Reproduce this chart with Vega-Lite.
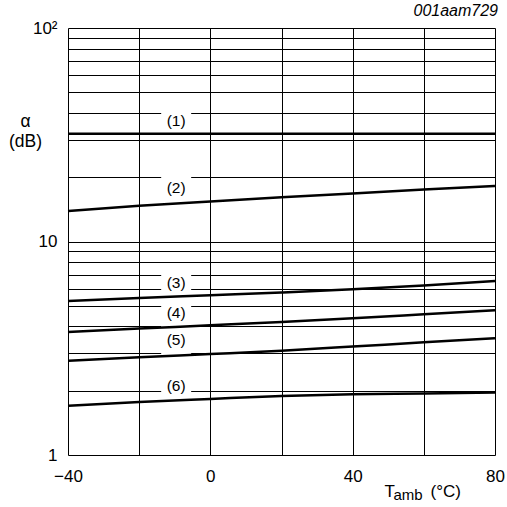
{
  "$schema": "https://vega.github.io/schema/vega-lite/v6.json",
  "width": 427,
  "height": 427,
  "autosize": {"type": "none"},
  "padding": {"left": 68, "top": 28, "right": 12, "bottom": 52},
  "background": "white",
  "title": {
    "text": "001aam729",
    "anchor": "end",
    "frame": "group",
    "font": "Liberation Sans",
    "fontSize": 16,
    "fontStyle": "italic",
    "fontWeight": "normal",
    "color": "black",
    "baseline": "alphabetic",
    "offset": 7,
    "dx": 3,
    "dy": 20
  },
  "config": {
    "view": {"stroke": null},
    "font": "Liberation Sans",
    "axis": {
      "labelFont": "Liberation Sans",
      "titleFont": "Liberation Sans",
      "labelColor": "black",
      "titleColor": "black",
      "titleFontWeight": "normal",
      "ticks": false,
      "domain": false,
      "labelOverlap": false,
      "labelFlush": false
    }
  },
  "datasets": {
    "curves": [
      {"curve": "1", "t": -40, "a": 32.0},
      {"curve": "1", "t": -20, "a": 32.0},
      {"curve": "1", "t": 0, "a": 32.0},
      {"curve": "1", "t": 20, "a": 32.0},
      {"curve": "1", "t": 40, "a": 32.0},
      {"curve": "1", "t": 60, "a": 32.0},
      {"curve": "1", "t": 80, "a": 32.0},
      {"curve": "2", "t": -40, "a": 13.9},
      {"curve": "2", "t": -20, "a": 14.7},
      {"curve": "2", "t": 0, "a": 15.4},
      {"curve": "2", "t": 20, "a": 16.1},
      {"curve": "2", "t": 40, "a": 16.8},
      {"curve": "2", "t": 60, "a": 17.5},
      {"curve": "2", "t": 80, "a": 18.2},
      {"curve": "3", "t": -40, "a": 5.26},
      {"curve": "3", "t": -20, "a": 5.44},
      {"curve": "3", "t": 0, "a": 5.6},
      {"curve": "3", "t": 20, "a": 5.77},
      {"curve": "3", "t": 40, "a": 5.97},
      {"curve": "3", "t": 60, "a": 6.23},
      {"curve": "3", "t": 80, "a": 6.53},
      {"curve": "4", "t": -40, "a": 3.77},
      {"curve": "4", "t": -20, "a": 3.91},
      {"curve": "4", "t": 0, "a": 4.05},
      {"curve": "4", "t": 20, "a": 4.2},
      {"curve": "4", "t": 40, "a": 4.37},
      {"curve": "4", "t": 60, "a": 4.56},
      {"curve": "4", "t": 80, "a": 4.76},
      {"curve": "5", "t": -40, "a": 2.76},
      {"curve": "5", "t": -20, "a": 2.87},
      {"curve": "5", "t": 0, "a": 2.97},
      {"curve": "5", "t": 20, "a": 3.08},
      {"curve": "5", "t": 40, "a": 3.22},
      {"curve": "5", "t": 60, "a": 3.37},
      {"curve": "5", "t": 80, "a": 3.52},
      {"curve": "6", "t": -40, "a": 1.7},
      {"curve": "6", "t": -20, "a": 1.77},
      {"curve": "6", "t": 0, "a": 1.83},
      {"curve": "6", "t": 20, "a": 1.89},
      {"curve": "6", "t": 40, "a": 1.925},
      {"curve": "6", "t": 60, "a": 1.94},
      {"curve": "6", "t": 80, "a": 1.96}
    ],
    "labels": [
      {"label": "(1)", "t": -9.6, "a": 36.7},
      {"label": "(2)", "t": -9.6, "a": 17.9},
      {"label": "(3)", "t": -9.6, "a": 6.41},
      {"label": "(4)", "t": -9.6, "a": 4.64},
      {"label": "(5)", "t": -9.6, "a": 3.46},
      {"label": "(6)", "t": -9.6, "a": 2.1}
    ]
  },
  "layer": [
    {
      "encoding": {
        "x": {
          "field": "t",
          "type": "quantitative",
          "scale": {"domain": [-40, 80], "nice": false, "zero": false},
          "axis": {
            "orient": "bottom",
            "values": [-40, -20, 0, 20, 40, 60, 80],
            "labelExpr": "datum.value == -40 ? '−40' : (datum.value % 40 == 0 ? toString(datum.value) : '')",
            "grid": true,
            "gridColor": "black",
            "gridWidth": 1,
            "labelFontSize": 17,
            "labelPadding": 13,
            "title": "T",
            "titleFontSize": 17,
            "titleAlign": "left",
            "titleBaseline": "alphabetic",
            "titleX": 316,
            "titleY": 41
          }
        },
        "y": {
          "field": "a",
          "type": "quantitative",
          "scale": {"type": "log", "domain": [1, 100], "nice": false},
          "axis": {
            "orient": "left",
            "values": [1, 2, 3, 4, 5, 6, 7, 8, 9, 10, 20, 30, 40, 50, 60, 70, 80, 90, 100],
            "labelExpr": "datum.value == 1 ? '1' : (datum.value == 10 ? '10' : (datum.value == 100 ? '10²' : ''))",
            "grid": true,
            "gridColor": "black",
            "gridWidth": 1,
            "labelFontSize": 17,
            "labelPadding": 11,
            "labelBaseline": "middle",
            "title": ["α", "(dB)"],
            "titleFontSize": 17.5,
            "titleAngle": 0,
            "titleAlign": "center",
            "titleBaseline": "alphabetic",
            "titleLineHeight": 20,
            "titleX": -43,
            "titleY": 98
          }
        }
      },
      "layer": [
        {
          "data": {"name": "labels"},
          "mark": {"type": "point", "shape": "square", "filled": true, "color": "white", "opacity": 1, "size": 900, "strokeWidth": 0}
        },
        {
          "data": {"name": "curves"},
          "mark": {"type": "line", "color": "black", "strokeWidth": 2.5, "interpolate": "monotone"},
          "encoding": {"detail": {"field": "curve", "type": "nominal"}}
        },
        {
          "data": {"name": "labels"},
          "mark": {"type": "text", "font": "Liberation Sans", "fontSize": 15.5, "color": "black", "align": "center", "baseline": "middle"},
          "encoding": {"text": {"field": "label", "type": "nominal"}}
        }
      ]
    },
    {
      "data": {"name": "curves"},
      "mark": {"type": "point", "opacity": 0},
      "encoding": {
        "x": {
          "field": "t",
          "type": "quantitative",
          "scale": {"domain": [-40, 80], "nice": false, "zero": false},
          "axis": {
            "orient": "top",
            "labels": false,
            "grid": false,
            "title": "(°C)",
            "titleFontSize": 17,
            "titleAlign": "left",
            "titleBaseline": "alphabetic",
            "titleX": 362,
            "titleY": 468
          }
        },
        "y": {
          "field": "a",
          "type": "quantitative",
          "scale": {"type": "log", "domain": [1, 100], "nice": false},
          "axis": {
            "orient": "right",
            "labels": false,
            "grid": false,
            "title": "amb",
            "titleFontSize": 15,
            "titleAngle": 0,
            "titleAlign": "left",
            "titleBaseline": "alphabetic",
            "titleX": -102,
            "titleY": 471
          }
        }
      }
    }
  ],
  "resolve": {
    "scale": {"x": "independent", "y": "independent"},
    "axis": {"x": "independent", "y": "independent"}
  }
}
